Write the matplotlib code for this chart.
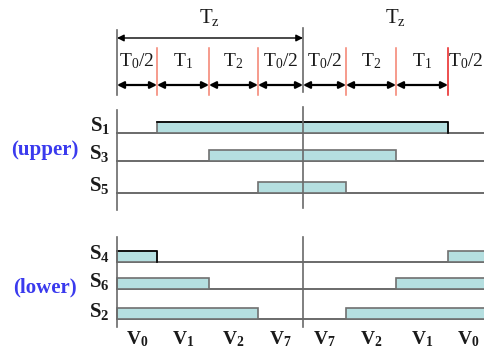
import matplotlib
matplotlib.use("Agg")
import matplotlib.pyplot as plt

plt.rcParams["font.family"] = ["Liberation Serif", "DejaVu Serif"]
plt.rcParams["mathtext.fontset"] = "custom"
plt.rcParams["mathtext.rm"] = "Liberation Serif"
plt.rcParams["mathtext.bf"] = "Liberation Serif:bold"

# switching instants over one Tz + Tz (time units, origin at start of sector)
edges = [0, 40, 92, 141, 186, 229, 279, 331, 372]
seg_labels = ["T_0/2", "T_1", "T_2", "T_0/2", "T_0/2", "T_2", "T_1", "T_0/2"]
vec_labels = ["V_0", "V_1", "V_2", "V_7", "V_7", "V_2", "V_1", "V_0"]

upper_names = ["S_1", "S_3", "S_5"]
upper_on = [(1, 7), (2, 6), (3, 5)]        # index pairs into edges
lower_names = ["S_4", "S_6", "S_2"]
lower_off = [(1, 7), (2, 6), (3, 5)]       # lower switch is off here

upper_rows = [133, 161, 193]
lower_rows = [262, 289, 319]

BAR = "#b5dfe0"
EDGE = "#707070"
LINE = "#6a6a6a"
TXT = "#1a1a1a"
BLUE = "#3a3aee"
H = 11

fig = plt.figure(figsize=(4.84, 3.52), dpi=100)
ax = fig.add_axes([0, 0, 1, 1])
ax.set_xlim(-117, 367)
ax.set_ylim(352, 0)
ax.axis("off")

mid = edges[4]
end = edges[-1]

# ---- top timing section ----
ax.plot([0, 0], [30, 95], color=LINE, lw=1.2)
ax.plot([mid, mid], [28, 92], color=LINE, lw=1.2)
for i, e in enumerate(edges[1:-1], start=1):
    if i == 4:
        continue
    col = "#e81e1e" if i == 7 else "#f4806e"
    ax.plot([e, e], [48, 95], color=col, lw=1.1)

arrow = dict(arrowstyle="<|-|>", color="black", lw=1.0,
             mutation_scale=10, shrinkA=0, shrinkB=0)
for a, b in [(edges[0], mid), (mid, end)]:
    ax.annotate("", xy=(b, 38), xytext=(a, 38), arrowprops=arrow)
    ax.text((a + b) / 2, 18, r"$\mathregular{T_z}$", ha="center", va="center",
            fontsize=15, color=TXT)

seg_arrow = dict(arrow, lw=1.6)
for i, lab in enumerate(seg_labels):
    a, b = edges[i], edges[i + 1]
    x = min((a + b) / 2, 349)   # keep last label inside the frame
    ax.annotate("", xy=(b, 85), xytext=(a, 85), arrowprops=seg_arrow)
    ax.text(x, 61, r"$\mathregular{%s}$" % lab, ha="center",
            va="center", fontsize=14, color=TXT)

# ---- upper switches ----
ax.plot([0, 0], [110, 210], color=LINE, lw=1.2, zorder=4)
ax.plot([mid, mid], [107, 208], color=LINE, lw=1.2, zorder=4)
for name, (i0, i1), y in zip(upper_names, upper_on, upper_rows):
    ax.plot([0, end], [y, y], color=LINE, lw=1.4, zorder=1)
    ax.barh(y - H / 2, edges[i1] - edges[i0], left=edges[i0], height=H,
            color=BAR, edgecolor=EDGE, lw=1.2, zorder=2)
    ax.text(-7, y - 8, r"$\mathbf{%s}$" % name, ha="right", va="center",
            fontsize=15, color=TXT)
# first switch drawn with a dark top edge
i0, i1 = upper_on[0]
ax.plot([edges[i0], edges[i1], edges[i1]],
        [upper_rows[0] - H, upper_rows[0] - H, upper_rows[0]],
        color="black", lw=1.2, zorder=3)
ax.text(-72, 150, "(upper)", ha="center", va="center", fontsize=15,
        fontweight="bold", color=BLUE)

# ---- lower switches ----
ax.plot([0, 0], [237, 327], color=LINE, lw=1.2, zorder=4)
ax.plot([mid, mid], [237, 327], color=LINE, lw=1.2, zorder=4)
for name, (i0, i1), y in zip(lower_names, lower_off, lower_rows):
    ax.plot([0, end], [y, y], color=LINE, lw=1.4, zorder=1)
    ax.barh(y - H / 2, edges[i0] - edges[0], left=edges[0], height=H,
            color=BAR, edgecolor=EDGE, lw=1.2, zorder=2)
    ax.barh(y - H / 2, edges[-1] - edges[i1] + 20, left=edges[i1], height=H,
            color=BAR, edgecolor=EDGE, lw=1.2, zorder=2)
    ax.text(-7, y - 8, r"$\mathbf{%s}$" % name, ha="right", va="center",
            fontsize=15, color=TXT)
i0, _ = lower_off[0]
ax.plot([edges[0], edges[i0], edges[i0]],
        [lower_rows[0] - H, lower_rows[0] - H, lower_rows[0]],
        color="black", lw=1.2, zorder=3)
ax.text(-72, 287, "(lower)", ha="center", va="center", fontsize=15,
        fontweight="bold", color=BLUE)

# ---- voltage vectors ----
for i, lab in enumerate(vec_labels):
    ax.text((edges[i] + edges[i + 1]) / 2, 339, r"$\mathbf{%s}$" % lab,
            ha="center", va="center", fontsize=14, color=TXT)

fig.savefig("out.png", dpi=100)
